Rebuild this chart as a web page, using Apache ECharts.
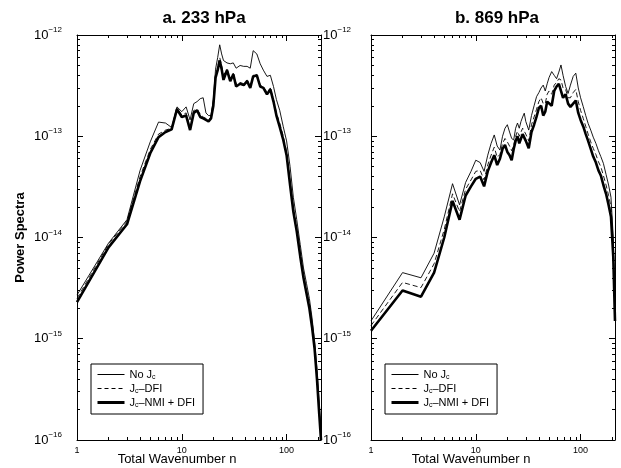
<!DOCTYPE html>
<html><head><meta charset="utf-8">
<script src="https://cdn.jsdelivr.net/npm/echarts@6/dist/echarts.min.js"></script>
<style>html,body{margin:0;padding:0;background:#fff}#c{width:621px;height:468px}</style>
</head><body><div id="c"></div>
<script>
// ---- data: panel a (233 hPa)
const nA = [1,2,3,4,5,6,7,8,9,10,11,12,13,14,15,16,17,18,19,20,21,22,23,24,25,27,29,31,33,36,39,42,45,48,52,56,60,65,70,75,80,86,93,100,108,116,125,135,145,155,165,175,185,195,205,213];
const aNo  = [2.7e-15,8.8e-15,1.5e-14,4.6e-14,8.8e-14,1.38e-13,1.35e-13,1.22e-13,1.95e-13,1.75e-13,1.95e-13,1.45e-13,2.1e-13,2.2e-13,2.35e-13,2.4e-13,1.7e-13,1.6e-13,1.6e-13,2.3e-13,4.6e-13,6.0e-13,8.0e-13,6.5e-13,5.6e-13,5.3e-13,5.2e-13,5.3e-13,4.7e-13,5.0e-13,4.9e-13,4.9e-13,4.7e-13,7.0e-13,6.5e-13,5.2e-13,4.5e-13,3.9e-13,4.0e-13,3.1e-13,2.3e-13,1.8e-13,1.24e-13,9.0e-14,5.0e-14,2.5e-14,1.5e-14,8.5e-15,5.0e-15,3.5e-15,2.5e-15,1.6e-15,9.5e-16,5.0e-16,2.3e-16,1.2e-16];
const aDfi = [2.5e-15,8.6e-15,1.45e-14,4.0e-14,7.4e-14,1.05e-13,1.15e-13,1.2e-13,1.9e-13,1.62e-13,1.7e-13,1.2e-13,1.8e-13,1.85e-13,1.65e-13,1.55e-13,1.5e-13,1.45e-13,1.55e-13,2.2e-13,4.0e-13,4.8e-13,6.0e-13,5.0e-13,4.0e-13,4.6e-13,3.7e-13,4.2e-13,3.3e-13,3.4e-13,3.3e-13,3.6e-13,3.1e-13,4.0e-13,4.1e-13,3.2e-13,3.1e-13,2.7e-13,3.0e-13,2.3e-13,1.7e-13,1.35e-13,1.0e-13,7.0e-14,3.6e-14,2.0e-14,1.25e-14,7.0e-15,4.3e-15,3.0e-15,2.2e-15,1.4e-15,8.5e-16,4.2e-16,2.0e-16,1.1e-16];
const aNmi = [2.3e-15,8.0e-15,1.35e-14,3.6e-14,6.8e-14,9.8e-14,1.1e-13,1.17e-13,1.85e-13,1.55e-13,1.6e-13,1.15e-13,1.7e-13,1.8e-13,1.55e-13,1.5e-13,1.45e-13,1.4e-13,1.5e-13,2.0e-13,3.8e-13,4.5e-13,5.6e-13,4.6e-13,3.6e-13,4.5e-13,3.5e-13,4.1e-13,3.1e-13,3.3e-13,3.2e-13,3.5e-13,3.0e-13,3.9e-13,4.0e-13,3.1e-13,3.0e-13,2.6e-13,2.9e-13,2.2e-13,1.6e-13,1.24e-13,9.2e-14,6.5e-14,3.3e-14,1.8e-14,1.15e-14,6.5e-15,4.0e-15,2.8e-15,2.0e-15,1.3e-15,8.0e-16,4.0e-16,1.8e-16,1.0e-16];
// ---- data: panel b (869 hPa)
const nB = [1,2,3,4,5,6,7,8,9,10,11,12,13,14,15,16,17,18,19,20,21,22,23,24,25,26,27,28,29,30,32,34,36,38,40,42,44,46,48,50,53,56,59,62,65,68,72,76,80,85,90,95,100,106,112,118,125,132,140,148,156,165,175,185,195,205,213];
const bNo  = [1.5e-15,4.5e-15,4.0e-15,7.0e-15,1.6e-14,3.4e-14,2.1e-14,3.5e-14,4.5e-14,5.8e-14,5.5e-14,4.5e-14,6.5e-14,8.5e-14,1.03e-13,8.0e-14,7.3e-14,1.0e-13,1.2e-13,1.3e-13,1.1e-13,9.5e-14,9.2e-14,1.2e-13,1.35e-13,1.2e-13,1.4e-13,1.55e-13,1.69e-13,1.4e-13,1.15e-13,1.6e-13,2.0e-13,2.46e-13,2.7e-13,3.0e-13,3.2e-13,2.8e-13,3.3e-13,3.8e-13,4.35e-13,4.0e-13,3.7e-13,4.3e-13,5.06e-13,4.0e-13,3.1e-13,2.65e-13,3.2e-13,3.9e-13,4.2e-13,3.0e-13,2.4e-13,1.96e-13,1.6e-13,1.34e-13,1.15e-13,9.8e-14,8.5e-14,7.2e-14,6.3e-14,5.4e-14,4.2e-14,3.3e-14,2.5e-14,1.0e-14,2.0e-15];
const bDfi = [1.35e-15,3.6e-15,3.2e-15,5.5e-15,1.2e-14,2.7e-14,1.8e-14,3.0e-14,3.7e-14,4.5e-14,4.6e-14,3.7e-14,5.2e-14,6.5e-14,7.8e-14,6.2e-14,6.6e-14,8.5e-14,9.5e-14,8.8e-14,8.0e-14,7.2e-14,8.2e-14,1.0e-13,1.12e-13,1.0e-13,1.1e-13,1.2e-13,1.25e-13,1.05e-13,9.0e-14,1.3e-13,1.55e-13,1.85e-13,2.2e-13,2.4e-13,2.1e-13,2.1e-13,2.6e-13,2.8e-13,2.6e-13,3.2e-13,3.4e-13,3.7e-13,3.6e-13,3.0e-13,2.9e-13,2.4e-13,2.4e-13,2.7e-13,2.9e-13,2.2e-13,1.8e-13,1.5e-13,1.25e-13,1.05e-13,8.8e-14,7.6e-14,6.6e-14,5.6e-14,5.0e-14,4.1e-14,3.3e-14,2.6e-14,2.0e-14,8.0e-15,1.7e-15];
const bNmi = [1.2e-15,3.0e-15,2.6e-15,4.5e-15,1.0e-14,2.3e-14,1.5e-14,2.6e-14,3.2e-14,3.8e-14,4.0e-14,3.2e-14,4.5e-14,5.5e-14,6.5e-14,5.2e-14,6.0e-14,7.5e-14,8.2e-14,7.0e-14,6.5e-14,5.8e-14,7.5e-14,9.0e-14,1.0e-13,8.5e-14,9.5e-14,1.05e-13,1.07e-13,9.0e-14,7.6e-14,1.1e-13,1.3e-13,1.56e-13,1.9e-13,2.0e-13,1.6e-13,1.75e-13,2.2e-13,2.3e-13,2.0e-13,2.8e-13,3.1e-13,3.3e-13,2.8e-13,2.4e-13,2.6e-13,2.1e-13,1.95e-13,2.1e-13,2.25e-13,1.7e-13,1.45e-13,1.25e-13,1.05e-13,9.0e-14,7.5e-14,6.3e-14,5.5e-14,4.6e-14,4.1e-14,3.3e-14,2.7e-14,2.1e-14,1.6e-14,6.5e-15,1.5e-15];
// ---- text / ticks
const titles = ['a. 233 hPa', 'b. 869 hPa'];
const seriesNames = ['No Jc', 'Jc-DFI', 'Jc-NMI + DFI'];
const legendRich = {'No Jc': 'No J{s|c}', 'Jc-DFI': 'J{s|c}\u2013DFI', 'Jc-NMI + DFI': 'J{s|c}\u2013NMI + DFI'};
const xMajor = [1, 10, 100];
const xMinor = [2,3,4,5,6,7,8,9,20,30,40,50,60,70,80,90,200];
const yMinor = [];
[-16,-15,-14,-13].forEach(e => { for (let k = 2; k <= 9; k++) yMinor.push(Number(k + 'e' + e)); });
const X_MIN = 1, X_MAX = 213, Y_MIN = 1e-16, Y_MAX = 1e-12;

const FONT = '"Liberation Sans", Arial, Helvetica, sans-serif';
const chart = echarts.init(document.getElementById('c'), null, {renderer: 'canvas'});

const grids = [
  {left: 77, top: 35, width: 244, height: 405, outerBoundsMode: 'none', containLabel: false},
  {left: 371, top: 35, width: 244, height: 405, outerBoundsMode: 'none', containLabel: false}
];
const axisLineStyle = {lineStyle: {color: '#000', width: 1}};
const xAxes = [], yAxes = [];
const yLabelFmt = v => '{b|10}{s|\u2212' + Math.abs(Math.round(Math.log10(v))) + '}';
const yLabelRich = {b: {fontSize: 13, lineHeight: 18, fontFamily: FONT, color: '#000'}, s: {fontSize: 8, lineHeight: 9, verticalAlign: 'top', fontFamily: FONT, color: '#000'}};

grids.forEach((g, gi) => {
  xAxes.push({type: 'log', logBase: 10, gridIndex: gi, min: X_MIN, max: X_MAX, position: 'bottom',
    axisLine: axisLineStyle, splitLine: {show: false},
    axisTick: {show: true, inside: true, length: 6, customValues: xMajor, lineStyle: {color: '#000'}},
    axisLabel: {show: true, customValues: xMajor, fontSize: 9, fontFamily: FONT, color: '#000', margin: 6},
    name: 'Total Wavenumber n', nameLocation: 'middle', nameGap: 13, nameMoveOverlap: false,
    nameTextStyle: {fontSize: 13, fontFamily: FONT, color: '#000', padding: [0, 44, 0, 0]}});
  xAxes.push({type: 'log', logBase: 10, gridIndex: gi, min: X_MIN, max: X_MAX, position: 'bottom',
    axisLine: {show: false}, splitLine: {show: false}, axisLabel: {show: false},
    axisTick: {show: true, inside: true, length: 3, customValues: xMinor, lineStyle: {color: '#000'}}});
  xAxes.push({type: 'log', logBase: 10, gridIndex: gi, min: X_MIN, max: X_MAX, position: 'top',
    axisLine: axisLineStyle, splitLine: {show: false}, axisLabel: {show: false},
    axisTick: {show: true, inside: true, length: 6, customValues: xMajor, lineStyle: {color: '#000'}}});
  xAxes.push({type: 'log', logBase: 10, gridIndex: gi, min: X_MIN, max: X_MAX, position: 'top',
    axisLine: {show: false}, splitLine: {show: false}, axisLabel: {show: false},
    axisTick: {show: true, inside: true, length: 3, customValues: xMinor, lineStyle: {color: '#000'}}});
  yAxes.push({type: 'log', logBase: 10, gridIndex: gi, min: Y_MIN, max: Y_MAX, position: 'left',
    axisLine: axisLineStyle, splitLine: {show: false},
    axisTick: {show: true, inside: true, length: 6, lineStyle: {color: '#000'}},
    axisLabel: {show: gi === 0, formatter: yLabelFmt, rich: yLabelRich, margin: 15},
    name: gi === 0 ? 'Power Spectra' : '', nameLocation: 'middle', nameGap: 50, nameRotate: 90,
    nameTextStyle: {fontSize: 13, fontWeight: 'bold', fontFamily: FONT, color: '#000'}});
  yAxes.push({type: 'log', logBase: 10, gridIndex: gi, min: Y_MIN, max: Y_MAX, position: 'left',
    axisLine: {show: false}, splitLine: {show: false}, axisLabel: {show: false},
    axisTick: {show: true, inside: true, length: 3, customValues: yMinor, lineStyle: {color: '#000'}}});
  yAxes.push({type: 'log', logBase: 10, gridIndex: gi, min: Y_MIN, max: Y_MAX, position: 'right',
    axisLine: axisLineStyle, splitLine: {show: false},
    axisTick: {show: true, inside: true, length: 6, lineStyle: {color: '#000'}},
    axisLabel: {show: gi === 0, formatter: yLabelFmt, rich: yLabelRich, margin: 2}});
  yAxes.push({type: 'log', logBase: 10, gridIndex: gi, min: Y_MIN, max: Y_MAX, position: 'right',
    axisLine: {show: false}, splitLine: {show: false}, axisLabel: {show: false},
    axisTick: {show: true, inside: true, length: 3, customValues: yMinor, lineStyle: {color: '#000'}}});
});

const pairs = (xs, ys) => xs.map((x, i) => [x, ys[i]]);
const styles = [
  {width: 0.9, type: 'solid'},
  {width: 0.9, type: [5, 3]},
  {width: 2.6, type: 'solid'}
];
const panelData = [[aNo, aDfi, aNmi], [bNo, bDfi, bNmi]];
const panelN = [nA, nB];
const series = [];
panelData.forEach((set, gi) => {
  set.forEach((vals, si) => {
    series.push({type: 'line', name: seriesNames[si], xAxisIndex: gi * 4, yAxisIndex: gi * 4,
      data: pairs(panelN[gi], vals), symbol: 'none', showSymbol: false, animation: false,
      lineStyle: {color: '#000', width: styles[si].width, type: styles[si].type},
      itemStyle: {color: '#000'}, clip: true});
  });
});

const legendStyles = [
  {width: 1, type: 'solid'},
  {width: 1, type: [4, 3]},
  {width: 3, type: 'solid'}
];
const legendCommon = {orient: 'vertical', top: 364, itemWidth: 27, itemHeight: 10, itemGap: 1,
  borderColor: '#000', borderWidth: 1, padding: [4, 8, 5, 5], selectedMode: false,
  data: seriesNames.map((nm, i) => ({name: nm, lineStyle: {color: '#000', width: legendStyles[i].width, type: legendStyles[i].type}})),
  itemStyle: {opacity: 0, borderWidth: 0},
  formatter: name => legendRich[name],
  textStyle: {fontSize: 11, fontFamily: FONT, color: '#000', lineHeight: 13,
    rich: {s: {fontSize: 7, lineHeight: 7, verticalAlign: 'bottom', fontFamily: FONT, color: '#000', padding: [6, 0, 0, 0]}}}};

chart.setOption({
  backgroundColor: '#fff',
  animation: false,
  title: [
    {text: titles[0], left: 199, top: 5, textAlign: 'center', textStyle: {fontSize: 17, fontWeight: 'bold', fontFamily: FONT, color: '#000'}},
    {text: titles[1], left: 492, top: 5, textAlign: 'center', textStyle: {fontSize: 17, fontWeight: 'bold', fontFamily: FONT, color: '#000'}}
  ],
  legend: [Object.assign({left: 91}, legendCommon), Object.assign({left: 385}, legendCommon)],
  grid: grids,
  xAxis: xAxes,
  yAxis: yAxes,
  series: series
});
</script>
</body></html>
